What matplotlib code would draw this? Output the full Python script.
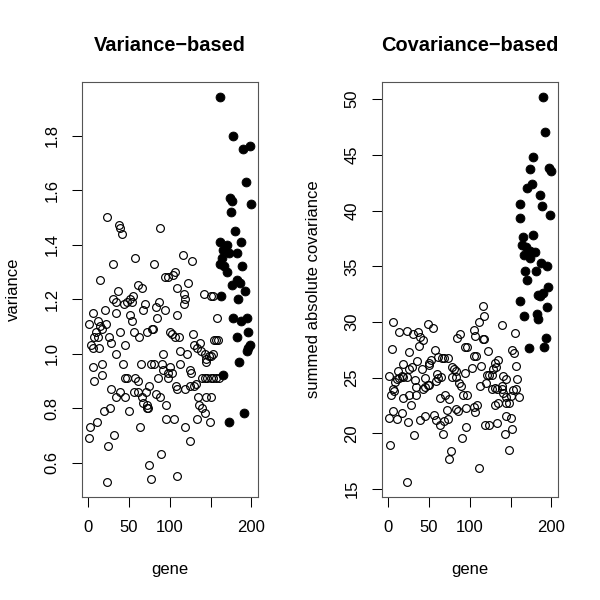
import matplotlib
matplotlib.use("Agg")
import matplotlib.pyplot as plt

plt.rcParams['font.family'] = ['Liberation Sans', 'DejaVu Sans']

# ---- left panel: variance per gene (open = ordinary, filled = high) ----
var_open_gene = [24, 38, 39, 42, 88, 31, 58, 81, 15, 95,
                 98, 104, 107, 61, 109,
                 37, 66, 31, 34, 48, 52, 54, 55, 44, 70,
                 87, 83, 94, 67, 35, 6, 21, 52, 54, 85,
                 109, 1, 12, 22, 17, 15, 10, 8, 13, 40,
                 56, 63, 72, 78, 80, 100, 103, 107, 111, 4,
                 7, 14, 26, 29, 45, 35, 92, 113, 6, 17,
                 43, 65, 77, 81, 91, 101, 92, 98, 103, 86,
                 98, 8, 18, 45, 48, 58, 61, 113, 29, 108,
                 109, 40, 56, 62, 71, 75, 83, 88, 34, 46,
                 66, 68, 72, 73, 74, 20, 27, 50, 96, 3,
                 11, 2, 32, 64, 96, 105, 25, 90, 75, 23,
                 77, 109,
                 116, 127, 122,
                 117, 119, 118, 142, 151, 153, 158, 129, 125, 126,
                 119, 125, 130, 132, 139, 143, 146, 150, 153, 157,
                 160, 121, 130, 137, 133, 138, 143, 145, 148, 150,
                 153, 145, 154, 157, 159, 135, 136, 140, 143, 145,
                 151, 133, 149, 119, 125]
var_open = [1.50, 1.47, 1.46, 1.44, 1.46, 1.33, 1.35, 1.33, 1.27, 1.28,
            1.28, 1.29, 1.30, 1.25, 1.24,
            1.23, 1.24, 1.20, 1.19, 1.19, 1.20, 1.19, 1.21, 1.18, 1.18,
            1.19, 1.17, 1.16, 1.16, 1.15, 1.15, 1.16, 1.14, 1.12, 1.13,
            1.14, 1.11, 1.12, 1.11, 1.09, 1.10, 1.08, 1.06, 1.06, 1.08,
            1.08, 1.06, 1.08, 1.09, 1.09, 1.08, 1.07, 1.06, 1.06, 1.03,
            1.02, 1.02, 1.06, 1.04, 1.03, 1.00, 1.00, 1.01, 0.95, 0.96,
            0.96, 0.96, 0.96, 0.96, 0.96, 0.95, 0.94, 0.93, 0.93, 0.91,
            0.91, 0.90, 0.92, 0.91, 0.91, 0.91, 0.90, 0.96, 0.87, 0.88,
            0.87, 0.86, 0.86, 0.86, 0.86, 0.88, 0.85, 0.84, 0.84, 0.84,
            0.84, 0.82, 0.81, 0.80, 0.80, 0.79, 0.80, 0.79, 0.81, 0.73,
            0.75, 0.69, 0.70, 0.73, 0.76, 0.76, 0.66, 0.63, 0.59, 0.53,
            0.54, 0.55,
            1.36, 1.34, 1.26,
            1.22, 1.20, 1.18, 1.22, 1.21, 1.21, 1.13, 1.07, 0.94, 0.93,
            0.87, 0.88, 0.88, 0.89, 0.91, 0.91, 0.91, 0.91, 0.91, 0.91,
            0.91, 1.00, 1.03, 1.04, 1.02, 1.01, 1.00, 0.98, 0.99, 0.99,
            1.00, 0.97, 1.05, 1.05, 1.05, 0.84, 0.81, 0.80, 0.78, 0.84,
            0.84, 0.76, 0.75, 0.73, 0.68]
var_high_gene = [161, 178, 190, 198, 193, 199, 174, 176, 175, 180,
                 162, 170, 187, 165, 172, 182, 164, 161, 167, 189,
                 170, 182, 186, 176, 163, 184, 192, 178, 187, 195,
                 196, 182, 194, 196, 198, 185, 165, 191, 173]
var_high = [1.94, 1.80, 1.75, 1.76, 1.63, 1.55, 1.57, 1.56, 1.52, 1.45,
            1.41, 1.40, 1.41, 1.38, 1.37, 1.37, 1.35, 1.33, 1.32, 1.32,
            1.30, 1.27, 1.26, 1.25, 1.21, 1.20, 1.23, 1.13, 1.12, 1.13,
            1.08, 1.06, 1.01, 1.02, 1.03, 0.97, 0.92, 0.78, 0.75]

# ---- right panel: summed absolute covariance per gene ----
cov_open_gene = [6, 49, 55, 14, 24, 31, 37, 40, 43, 88,
                 85, 5, 26, 38, 58, 94, 97, 19, 36, 53,
                 62, 66, 69, 74, 51, 50, 30, 26, 12, 17,
                 19, 14, 11, 9, 23, 1, 33, 42, 46, 60,
                 62, 65, 78, 81, 83, 79, 84, 94, 6, 4,
                 8, 19, 26, 29, 35, 35, 43, 46, 49, 51,
                 59, 64, 70, 75, 87, 89, 92, 97, 1, 7,
                 11, 18, 25, 40, 45, 56, 59, 64, 67, 69,
                 74, 73, 83, 86, 96, 91, 96, 32, 3, 77,
                 75, 23,
                 116, 118, 112, 105, 106, 116, 118, 139, 156, 105,
                 108, 103, 114, 122, 121, 124, 127, 120, 129, 131,
                 135, 132, 141, 145, 153, 152, 154, 157, 158, 113,
                 109, 105, 106, 127, 131, 134, 139, 140, 141, 131,
                 135, 145, 148, 144, 150, 157, 160, 119, 124, 133,
                 144, 151, 152, 143, 148, 111]
cov_open = [29.97, 29.85, 29.49, 29.07, 29.19, 28.90, 29.07, 28.66, 28.36, 28.95,
            28.60, 27.59, 27.35, 27.82, 27.53, 27.76, 27.76, 26.22, 26.46, 26.63,
            26.87, 26.75, 26.81, 26.81, 26.28, 26.10, 25.92, 25.74, 25.56, 25.20,
            25.09, 24.97, 24.85, 24.61, 25.09, 25.15, 24.79, 25.74, 24.97, 25.32,
            24.97, 25.03, 25.98, 25.80, 25.62, 25.03, 25.09, 25.38, 23.95, 23.42,
            23.78, 23.18, 23.42, 22.53, 24.13, 23.48, 24.01, 24.19, 24.37, 24.31,
            24.73, 23.18, 23.48, 23.06, 24.55, 24.25, 23.48, 23.42, 21.39, 21.99,
            21.33, 21.81, 21.04, 21.22, 21.57, 21.63, 21.22, 20.74, 19.91, 21.16,
            21.34, 22.11, 22.17, 21.99, 22.29, 19.55, 20.56, 19.90, 18.95, 18.42,
            17.70, 15.68,
            31.40, 30.50, 29.97, 29.31, 28.72, 28.48, 28.48, 29.73, 29.02, 26.93,
            26.99, 25.86, 26.04, 27.41, 25.26, 25.26, 25.26, 24.55, 25.80, 26.28,
            26.57, 25.98, 25.20, 24.91, 23.90, 27.47, 27.23, 26.04, 24.85, 24.25,
            22.59, 22.41, 21.93, 23.95, 24.07, 23.95, 24.25, 23.95, 23.60, 22.59,
            22.76, 22.76, 22.76, 23.30, 23.36, 23.95, 23.24, 20.80, 20.80, 20.92,
            21.57, 21.39, 20.44, 19.97, 18.54, 16.93]
cov_high_gene = [190, 192, 178, 174, 197, 199, 170, 176, 186, 161,
                 188, 198, 162, 165, 178, 164, 169, 174, 180, 166,
                 174, 168, 181, 187, 195, 170, 196, 161, 166, 173,
                 182, 184, 186, 183, 190, 194, 193, 191]
cov_high = [50.15, 47.08, 44.79, 43.72, 43.84, 43.54, 42.05, 42.35, 41.40, 40.62,
            40.44, 39.61, 39.37, 37.59, 37.82, 36.87, 36.75, 36.34, 36.31, 35.98,
            35.71, 34.61, 34.55, 35.26, 35.02, 33.78, 33.12, 31.87, 30.56, 27.70,
            30.68, 30.27, 32.35, 32.41, 32.59, 31.34, 28.54, 27.76]

x_ticks = [0, 50, 100, 150, 200]
x_tick_labels = ['0', '50', '100', '', '200']
var_ticks = [0.6, 0.8, 1.0, 1.2, 1.4, 1.6, 1.8]
cov_ticks = [15, 20, 25, 30, 35, 40, 45, 50]


def r_lim(vals, frac=0.04):
    lo, hi = min(vals), max(vals)
    d = (hi - lo) * frac
    return lo - d, hi + d


def panel(ax, g_open, v_open, g_high, v_high, yticks, title, ylabel):
    ax.plot(g_open, v_open, 'o', ms=5.6, mfc='none', mec='black', mew=0.85)
    ax.plot(g_high, v_high, 'o', ms=6.4, mfc='black', mec='black', mew=0.6)
    ax.set_xlim(-6.96, 207.96)
    ax.set_ylim(*r_lim(list(v_open) + list(v_high)))
    ax.set_xticks(x_ticks)
    ax.set_xticklabels(x_tick_labels)
    ax.set_yticks(yticks)
    ax.set_yticklabels([('%g' % t) if t >= 10 else '%.1f' % t for t in yticks],
                       rotation=90, va='center')
    ax.tick_params(direction='out', length=7.2, width=0.75, pad=9,
                   labelsize=12, colors='black')
    for s in ax.spines.values():
        s.set_linewidth(0.8)
        s.set_color('#555555')
    ax.set_title(title, fontsize=14.4, fontweight='bold', pad=22)
    ax.set_xlabel('gene', fontsize=12, labelpad=20)
    ax.set_ylabel(ylabel, fontsize=12, labelpad=17)


fig = plt.figure(figsize=(6, 6), dpi=100)
ax1 = fig.add_axes([82 / 600, 103 / 600, 176 / 600, 415 / 600])
ax2 = fig.add_axes([382 / 600, 103 / 600, 176 / 600, 415 / 600])

panel(ax1, var_open_gene, var_open, var_high_gene, var_high,
      var_ticks, 'Variance\u2212based', 'variance')
panel(ax2, cov_open_gene, cov_open, cov_high_gene, cov_high,
      cov_ticks, 'Covariance\u2212based', 'summed absolute covariance')

fig.savefig('out.png', dpi=100)
